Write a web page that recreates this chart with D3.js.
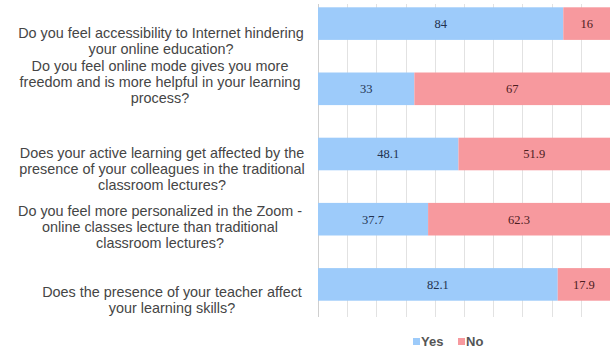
<!DOCTYPE html>
<html>
<head>
<meta charset="utf-8">
<script src="https://cdn.jsdelivr.net/npm/d3@7/dist/d3.min.js"></script>
<style>
  html, body { margin: 0; padding: 0; background: #fff; }
  svg { display: block; }
</style>
</head>
<body>
<svg id="chart" width="610" height="349"></svg>
<script>
// Survey questions (each entry is a list of wrapped lines)
const questions = [
  ["Do you feel accessibility to Internet hindering", "your online education?"],
  ["Do you feel online mode gives you more", "freedom and is more helpful in your learning", "process?"],
  ["Does your active learning get affected by the", "presence of your colleagues in the traditional", "classroom lectures?"],
  ["Do you feel more personalized in the Zoom -", "online classes lecture than traditional", "classroom lectures?"],
  ["Does the presence of your teacher affect", "your learning skills?"]
];
const yesValues = [84, 33, 48.1, 37.7, 82.1];
const noValues  = [16, 67, 51.9, 62.3, 17.9];
const seriesNames = ["Yes", "No"];
const xTicks = [0, 10, 20, 30, 40, 50, 60, 70, 80, 90, 100];

const colors = { Yes: "#9dcbfa", No: "#f7999e" };
const labelColors = { Yes: "#23324f", No: "#4d1d1f" };

const svg = d3.select("#chart");
const plot = { left: 318, right: 610, top: -9, bottom: 317 };

const x = d3.scaleLinear().domain([0, 100]).range([plot.left, plot.right]);
const y = d3.scaleBand()
  .domain(d3.range(questions.length))
  .range([plot.top, plot.bottom])
  .paddingInner(0.5)
  .paddingOuter(0.25);

// vertical gridlines
svg.append("g")
  .selectAll("line")
  .data(xTicks)
  .join("line")
  .attr("x1", d => Math.round(x(d)) + 0.5)
  .attr("x2", d => Math.round(x(d)) + 0.5)
  .attr("y1", 4)
  .attr("y2", plot.bottom)
  .attr("stroke", d => d === 0 ? "#cfcfcf" : "#e2e2e2")
  .attr("stroke-width", 1);

// stacked segments
const rows = questions.map((q, i) => ({
  i,
  segs: [
    { key: "Yes", x0: 0, x1: yesValues[i], v: yesValues[i] },
    { key: "No", x0: yesValues[i], x1: yesValues[i] + noValues[i], v: noValues[i] }
  ]
}));

const rowG = svg.append("g")
  .selectAll("g")
  .data(rows)
  .join("g");

rowG.selectAll("rect")
  .data(d => d.segs.map(s => ({ ...s, i: d.i })))
  .join("rect")
  .attr("x", d => x(d.x0))
  .attr("width", d => x(d.x1) - x(d.x0))
  .attr("y", d => y(d.i))
  .attr("height", y.bandwidth())
  .attr("fill", d => colors[d.key]);

rowG.selectAll("text")
  .data(d => d.segs.map(s => ({ ...s, i: d.i })))
  .join("text")
  .attr("x", d => (x(d.x0) + Math.min(x(d.x1), plot.right)) / 2)
  .attr("y", d => y(d.i) + y.bandwidth() / 2)
  .attr("dy", "0.35em")
  .attr("text-anchor", "middle")
  .attr("font-family", "'Liberation Serif', 'Times New Roman', serif")
  .attr("font-size", 12.5)
  .attr("fill", d => labelColors[d.key])
  .text(d => d.v);

// category labels, wrapped over several lines
const labelShift = [17, -7, 15, 8, 16];
const labelCenter = [161, 160, 162, 160, 172];
const lineH = 16;
svg.append("g")
  .selectAll("text")
  .data(questions)
  .join("text")
  .attr("text-anchor", "middle")
  .attr("font-family", "'Liberation Sans', Arial, sans-serif")
  .attr("font-size", 14.4)
  .attr("fill", "#454545")
  .each(function(lines, i) {
    const cy = y(i) + y.bandwidth() / 2 + labelShift[i];
    const first = cy - (lines.length - 1) * lineH / 2;
    d3.select(this).selectAll("tspan")
      .data(lines)
      .join("tspan")
      .attr("x", labelCenter[i])
      .attr("y", (l, j) => first + j * lineH)
      .attr("dy", "0.35em")
      .text(l => l);
  });

// legend
const legend = svg.append("g").attr("transform", "translate(413,341)");
const legendX = [0, 45];
const items = legend.selectAll("g")
  .data(seriesNames)
  .join("g")
  .attr("transform", (d, i) => `translate(${legendX[i]},0)`);
items.append("rect")
  .attr("x", 0).attr("y", -3)
  .attr("width", 7).attr("height", 7)
  .attr("fill", d => colors[d]);
items.append("text")
  .attr("x", 8).attr("y", 0)
  .attr("dy", "0.35em")
  .attr("font-family", "'Liberation Sans', Arial, sans-serif")
  .attr("font-weight", "bold")
  .attr("font-size", 13)
  .attr("fill", "#555")
  .text(d => d);
</script>
</body>
</html>
